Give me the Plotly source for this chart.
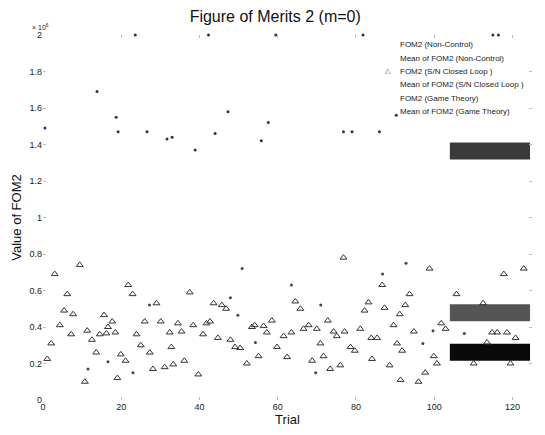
import plotly.graph_objects as go

# ---- data (values in units of 1e6) ----
sn_trial = [1.1, 2.1, 3.0, 4.3, 5.4, 6.2, 7.2, 7.7, 9.4, 10.7, 11.3, 12.5, 13.6, 14.5, 15.6, 16.2, 16.6,
            17.7, 18.5, 19.0, 19.9, 21.1, 21.8, 22.9, 23.9, 25.0, 26.0, 27.3, 28.1, 29.0, 30.1, 31.1,
            32.4, 32.8, 33.3, 34.5, 35.4, 36.1, 37.5, 38.4, 39.7, 40.9, 41.8, 42.7, 43.6, 44.7, 45.7,
            46.8, 47.9, 49.1, 50.4, 52.1, 53.4, 54.1, 55.1, 56.4, 57.2, 58.5, 59.8, 61.5, 62.4, 63.5,
            64.5, 65.8, 66.6, 67.9, 68.8, 70.0, 70.9, 71.7, 72.8, 73.4, 74.3, 75.1, 76.0, 76.8, 77.1,
            78.6, 79.7, 81.1, 82.2, 83.2, 83.9, 84.1, 85.4, 86.7, 87.3, 88.6, 89.6, 90.5, 91.2,
            91.4, 91.8, 92.6, 93.7, 94.8, 96.0, 97.7, 98.8, 99.9, 100.7, 101.8, 102.9, 105.7, 110.1,
            112.5, 113.5, 114.8, 116.1, 117.8, 118.6, 119.5, 120.8, 122.9]
sn_value = [0.225, 0.31, 0.69, 0.41, 0.49, 0.58, 0.36, 0.47, 0.74, 0.10, 0.38, 0.33, 0.26, 0.36, 0.465,
            0.365, 0.40, 0.43, 0.37, 0.12, 0.25, 0.215, 0.63, 0.58, 0.36, 0.30, 0.43, 0.26, 0.17, 0.53,
            0.43, 0.18, 0.37, 0.29, 0.195, 0.42, 0.375, 0.215, 0.59, 0.41, 0.14, 0.36, 0.42, 0.43, 0.53,
            0.34, 0.52, 0.50, 0.33, 0.29, 0.285, 0.20, 0.40, 0.41, 0.24, 0.405, 0.37, 0.435, 0.29, 0.35,
            0.235, 0.37, 0.54, 0.50, 0.39, 0.41, 0.215, 0.39, 0.31, 0.24, 0.435, 0.17, 0.375, 0.35, 0.19,
            0.78, 0.375, 0.29, 0.27, 0.39, 0.49, 0.535, 0.34, 0.225, 0.34, 0.63, 0.505, 0.19, 0.41,
            0.31, 0.47, 0.11, 0.27, 0.52, 0.58, 0.375, 0.10, 0.15, 0.72, 0.24, 0.20, 0.42, 0.39, 0.58,
            0.20, 0.53, 0.315, 0.37, 0.37, 0.69, 0.37, 0.20, 0.34, 0.72]

nc_trial = [0.5, 13.8, 18.7, 19.2, 23.6, 26.6, 31.7, 33.0, 38.9, 42.3, 44.0, 47.3, 55.8, 57.6, 59.5,
            76.8, 79.0, 81.8, 86.0, 90.3, 115.0, 116.4]
nc_value = [1.49, 1.69, 1.55, 1.47, 2.0, 1.47, 1.43, 1.44, 1.37, 2.0, 1.46, 1.58, 1.42, 1.52, 2.0,
            1.47, 1.47, 2.0, 1.47, 1.56, 2.0, 2.0]

gt_trial = [11.5, 16.6, 23.0, 27.2, 47.9, 49.8, 50.9, 54.3, 63.5, 69.7, 71.0, 86.8, 92.8, 97.1, 99.7, 107.7]
gt_value = [0.17, 0.21, 0.15, 0.52, 0.56, 0.465, 0.72, 0.315, 0.63, 0.15, 0.52, 0.69, 0.75, 0.31, 0.38, 0.365]

mean_span = [104, 124.5]
mean_nc = 1.365
mean_sn = 0.478
mean_gt = 0.262

x_ticks = [0, 20, 40, 60, 80, 100, 120]
y_ticks = [0, 0.2, 0.4, 0.6, 0.8, 1.0, 1.2, 1.4, 1.6, 1.8, 2.0]
y_tick_text = ["0", "0.2", "0.4", "0.6", "0.8", "1", "1.2", "1.4", "1.6", "1.8", "2"]

legend_labels = ["FOM2 (Non-Control)", "Mean of FOM2 (Non-Control)", "FOM2 (S/N Closed Loop )",
                 "Mean of FOM2 (S/N Closed Loop )", "FOM2 (Game Theory)", "Mean of FOM2 (Game Theory)"]

FONT = "Liberation Sans, Arial, Helvetica, sans-serif"

fig = go.Figure()

# mean bars
for val, col in [(mean_nc, "#3a3a3a"), (mean_sn, "#555555"), (mean_gt, "#0a0a0a")]:
    fig.add_trace(go.Scatter(x=mean_span, y=[val, val], mode="lines",
                             line=dict(color=col, width=17), showlegend=False, hoverinfo="skip"))

fig.add_trace(go.Scatter(x=nc_trial, y=nc_value, mode="markers", cliponaxis=False,
                         marker=dict(symbol="circle", size=3, color="#333"), showlegend=False))
fig.add_trace(go.Scatter(x=gt_trial, y=gt_value, mode="markers",
                         marker=dict(symbol="circle", size=3, color="#444"), showlegend=False))
fig.add_trace(go.Scatter(x=sn_trial, y=sn_value, mode="markers", cliponaxis=False,
                         marker=dict(symbol="triangle-up-open", size=6, color="#333",
                                     line=dict(width=1, color="#333")), showlegend=False))

annotations = []
for i, lab in enumerate(legend_labels):
    annotations.append(dict(x=398, y=45 + i * 13.5, text=lab,
                            showarrow=False, xanchor="left", yanchor="middle",
                            font=dict(family=FONT, size=8, color="#222")))
annotations.append(dict(x=388, y=71, text="\u25B3", showarrow=False, xanchor="center", yanchor="middle",
                        font=dict(family="DejaVu Sans", size=7, color="#555")))
annotations.append(dict(x=30, y=27, text="\u00D7 10<sup>6</sup>", showarrow=False, xanchor="left",
                        yanchor="middle", font=dict(family=FONT, size=7, color="#222")))

# convert pixel-placed annotations to paper coordinates
W, H = 545, 435
L, R, T, B = 43, 13, 35, 30
pw, ph = W - L - R, H - T - B
for a in annotations:
    a["xref"] = "paper"
    a["yref"] = "paper"
    a["x"] = (a["x"] - L) / pw
    a["y"] = 1 - (a["y"] - T) / ph

fig.update_layout(
    width=W, height=H,
    margin=dict(l=L, r=R, t=T, b=B),
    paper_bgcolor="white", plot_bgcolor="white",
    font=dict(family=FONT, size=9, color="#222"),
    title=dict(text="Figure of Merits 2 (m=0)", x=0.505, xanchor="center", y=0.962, yanchor="middle",
               font=dict(family=FONT, size=16, color="#111")),
    xaxis=dict(range=[0, 125], tickvals=x_ticks, showgrid=False, zeroline=False, showline=False,
               ticks="inside", ticklen=3, tickcolor="#bbb", mirror="ticks",
               tickfont=dict(size=9, color="#222"),
               title=dict(text="Trial", font=dict(family=FONT, size=13, color="#111"), standoff=2)),
    yaxis=dict(range=[0, 2], tickvals=y_ticks, ticktext=y_tick_text, showgrid=False, zeroline=False,
               showline=False, ticks="inside", ticklen=3, tickcolor="#bbb", mirror="ticks",
               tickfont=dict(size=9, color="#222"),
               title=dict(text="Value of FOM2", font=dict(family=FONT, size=13, color="#111"), standoff=4)),
    annotations=annotations,
)

fig.write_html("out.html")
